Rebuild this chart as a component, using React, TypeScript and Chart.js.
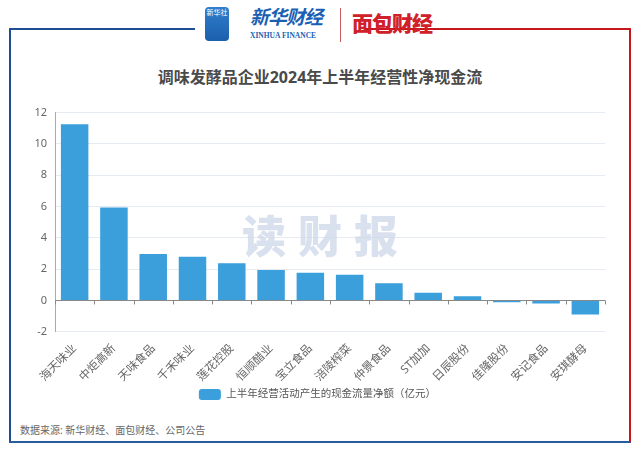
import React, { useEffect, useRef } from "react";
import { Chart, registerables } from "chart.js";

Chart.register(...registerables);

const categories = ["海天味业", "中炬高新", "天味食品", "千禾味业", "莲花控股", "恒顺醋业", "宝立食品", "涪陵榨菜", "仲景食品", "ST加加", "日辰股份", "佳隆股份", "安记食品", "安琪酵母"];
const cashFlow = [11.25, 5.93, 2.96, 2.79, 2.37, 1.94, 1.77, 1.64, 1.09, 0.49, 0.26, -0.12, -0.2, -0.9];
const seriesLabel = "上半年经营活动产生的现金流量净额（亿元）";
const yMin = -2;
const yMax = 12;
const yStep = 2;

const FONT = '"Noto Sans", "Noto Sans CJK SC", sans-serif';
const BAR = "#3a9fdb";

const watermark = {
  id: "watermark",
  beforeDatasetsDraw(chart: any) {
    const { ctx, chartArea } = chart;
    ctx.save();
    ctx.fillStyle = "rgba(205,215,232,0.75)";
    ctx.font = `900 44px "Noto Sans CJK SC", sans-serif`;
    ctx.textAlign = "center";
    ctx.textBaseline = "middle";
    const cx = (chartArea.left + chartArea.right) / 2 - 10;
    const cy = chartArea.top + 124;
    const chars = ["读", "财", "报"];
    chars.forEach((c, i) => ctx.fillText(c, cx + (i - 1) * 56, cy));
    ctx.restore();
  },
};

const zeroTicks = {
  id: "zeroTicks",
  afterDatasetsDraw(chart: any) {
    const { ctx, scales } = chart;
    const x = scales.x;
    const y0 = scales.y.getPixelForValue(0);
    ctx.save();
    ctx.strokeStyle = "#888";
    ctx.lineWidth = 1;
    ctx.beginPath();
    for (let i = 0; i <= categories.length; i++) {
      const px = Math.round(x.getPixelForValue(i - 0.5)) + 0.5;
      ctx.moveTo(px, y0);
      ctx.lineTo(px, y0 + 4);
    }
    ctx.stroke();
    ctx.restore();
  },
};

export default function App() {
  const ref = useRef<HTMLCanvasElement>(null);
  useEffect(() => {
    const chart = new Chart(ref.current!, {
      type: "bar",
      data: {
        labels: categories,
        datasets: [
          {
            label: seriesLabel,
            data: cashFlow,
            backgroundColor: BAR,
            borderWidth: 0,
            categoryPercentage: 1,
            barPercentage: 0.7,
          },
        ],
      },
      options: {
        animation: false,
        responsive: false,
        maintainAspectRatio: false,
        layout: { padding: { top: 12, right: 20, bottom: 2, left: 20 } },
        plugins: {
          tooltip: { enabled: false },
          legend: {
            position: "bottom",
            labels: {
              boxWidth: 22,
              boxHeight: 11,
              useBorderRadius: true,
              borderRadius: 3,
              color: "#555",
              font: { family: FONT, size: 10.5 },
              padding: 3,
            },
          },
        },
        scales: {
          x: {
            grid: { display: false },
            border: { display: false },
            ticks: {
              minRotation: 45,
              maxRotation: 45,
              color: "#666",
              font: { family: FONT, size: 11.5 },
              padding: 2,
            },
          },
          y: {
            min: yMin,
            max: yMax,
            afterFit(scale: any) {
              scale.width = 25;
            },
            ticks: {
              stepSize: yStep,
              color: "#666",
              font: { family: FONT, size: 11 },
              padding: 8,
            },
            grid: {
              color: (c: any) => (c.tick && c.tick.value === 0 ? "#888" : "#e6ebf3"),
              drawTicks: false,
            },
            border: { display: true, color: "#aaa" },
          },
        },
      },
      plugins: [watermark, zeroTicks],
    });
    return () => chart.destroy();
  }, []);

  return (
    <div style={{ position: "fixed", left: 0, top: 0, width: 640, height: 453, background: "#fff", fontFamily: FONT, overflow: "hidden" }}>
      {/* frame */}
      <div style={{ position: "absolute", left: 9, top: 28, width: 186, height: 2, background: "#1f4e93" }} />
      <div style={{ position: "absolute", left: 9, top: 28, width: 2, height: 414, background: "#1f4e93" }} />
      <div style={{ position: "absolute", left: 9, top: 441, width: 622, height: 2, background: "#2a5aa0" }} />
      <div style={{ position: "absolute", left: 364, top: 28, width: 267, height: 2, background: "#c8161d" }} />
      <div style={{ position: "absolute", left: 629, top: 28, width: 2, height: 414, background: "#c8161d" }} />
      {/* logos */}
      <div style={{ position: "absolute", left: 205, top: 7, width: 24, height: 34, borderRadius: 4, background: "linear-gradient(#2f7fcc, #1b5fae)", color: "#fff", fontSize: 7, textAlign: "center", lineHeight: "12px", whiteSpace: "nowrap", overflow: "hidden" }}>
        新华社
      </div>
      <div style={{ position: "absolute", left: 250, top: 3, color: "#1a5fb4", fontSize: 19, fontWeight: 700, fontStyle: "italic", lineHeight: "28px", letterSpacing: -1, whiteSpace: "nowrap" }}>
        新华财经
      </div>
      <div style={{ position: "absolute", left: 250, top: 31, color: "#1a5fb4", fontSize: 7.5, fontWeight: 700, fontFamily: '"Liberation Serif", serif', whiteSpace: "nowrap", lineHeight: "10px" }}>
        XINHUA FINANCE
      </div>
      <div style={{ position: "absolute", left: 340, top: 8, width: 1, height: 34, background: "#c86060" }} />
      <div style={{ position: "absolute", left: 352, top: 8, color: "#d0212a", fontSize: 21, fontWeight: 900, lineHeight: "30px", letterSpacing: -1, whiteSpace: "nowrap" }}>
        面包财经
      </div>
      {/* title */}
      <div style={{ position: "absolute", left: 0, top: 64, width: 640, textAlign: "center", fontSize: 16, fontWeight: 700, color: "#4a4a4a" }}>
        调味发酵品企业2024年上半年经营性净现金流
      </div>
      <canvas ref={ref} width={615} height={314} style={{ position: "absolute", left: 10, top: 98, width: 615, height: 314 }} />
      <div style={{ position: "absolute", left: 20, top: 422, fontSize: 10, color: "#666" }}>数据来源: 新华财经、面包财经、公司公告</div>
    </div>
  );
}
